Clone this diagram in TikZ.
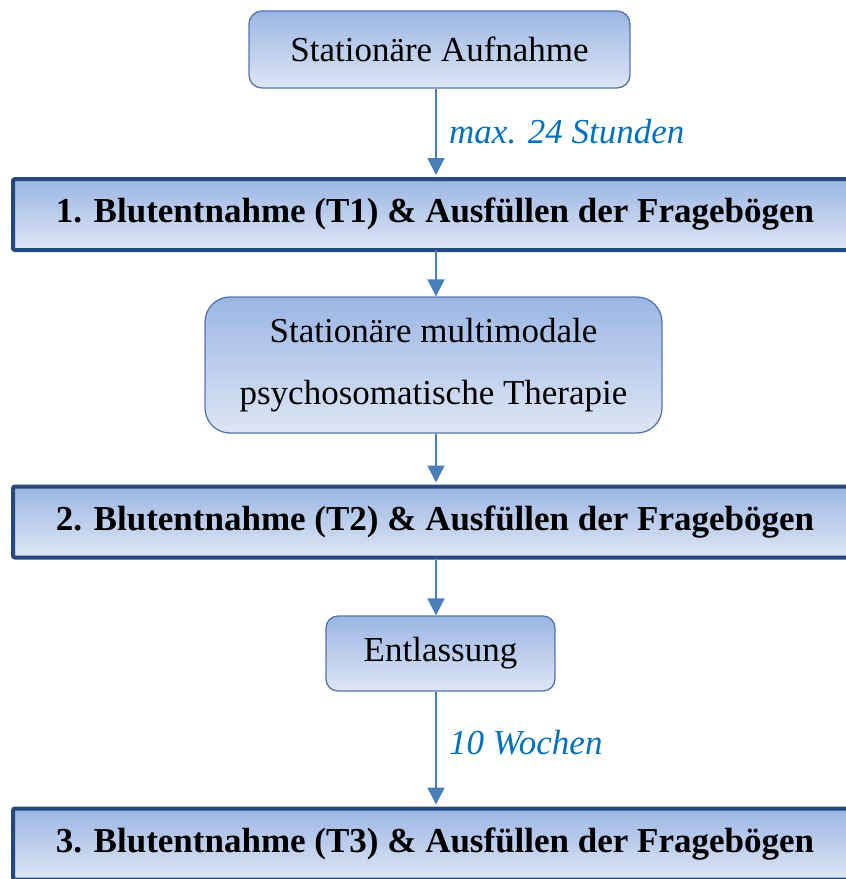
\documentclass[tikz,border=0pt]{standalone}
\usepackage{fontspec}
\setmainfont{Liberation Serif}
\usetikzlibrary{arrows.meta}
\definecolor{gtop}{RGB}{155,182,228}
\definecolor{gbot}{RGB}{222,230,245}
\definecolor{darkborder}{RGB}{36,73,125}
\definecolor{softborder}{RGB}{84,117,172}
\definecolor{arrowblue}{RGB}{74,126,187}
\definecolor{labelblue}{RGB}{0,112,192}
\tikzset{
  softbox/.style={draw=softborder, line width=1.3pt, top color=gtop, bottom color=gbot,
    inner sep=0pt, font=\fontsize{35}{62}\selectfont, align=center},
  stagebox/.style={draw=darkborder, line width=4pt, rounded corners=2pt, top color=gtop, bottom color=gbot,
    inner sep=0pt, minimum width=844pt, minimum height=71pt, font=\fontsize{35}{42}\selectfont\bfseries},
  flowarrow/.style={draw=arrowblue, line width=2pt, -{Triangle[length=17pt,width=17pt]}},
  steplabel/.style={anchor=base west, inner sep=0pt, text=labelblue, font=\fontsize{35}{42}\selectfont\itshape}
}
\begin{document}
\begin{tikzpicture}[x=1pt,y=-1pt]
\useasboundingbox (0,0) rectangle (846,879);
\clip (0,0) rectangle (846,879);
\coordinate (ax) at (436,0);
\node[softbox, rounded corners=13pt, minimum width=381pt, minimum height=77pt] (auf) at (439.5,49.5) {Stationäre Aufnahme};
\node[stagebox] (t1) at (435,214.5) {1. Blutentnahme (T1) \& Ausfüllen der Fragebögen};
\node[softbox, rounded corners=25pt, minimum width=457pt, minimum height=136pt] (ther) at (433.5,365) {Stationäre multimodale\\psychosomatische Therapie};
\node[stagebox] (t2) at (435,522) {2. Blutentnahme (T2) \& Ausfüllen der Fragebögen};
\node[softbox, rounded corners=12pt, minimum width=229pt, minimum height=75pt] (ent) at (440.5,653.5) {Entlassung};
\node[stagebox] (t3) at (435,844) {3. Blutentnahme (T3) \& Ausfüllen der Fragebögen};
\draw[flowarrow] (auf.south -| ax) -- ([yshift=2pt]t1.north -| ax);
\draw[flowarrow] ([yshift=2pt]t1.south -| ax) -- (ther.north -| ax);
\draw[flowarrow] (ther.south -| ax) -- ([yshift=2pt]t2.north -| ax);
\draw[flowarrow] ([yshift=2pt]t2.south -| ax) -- (ent.north -| ax);
\draw[flowarrow] (ent.south -| ax) -- ([yshift=2pt]t3.north -| ax);
\node[steplabel] (l1) at (449,143) {max. 24 Stunden};
\node[steplabel] (l2) at (449,754) {10 Wochen};
\end{tikzpicture}
\end{document}
